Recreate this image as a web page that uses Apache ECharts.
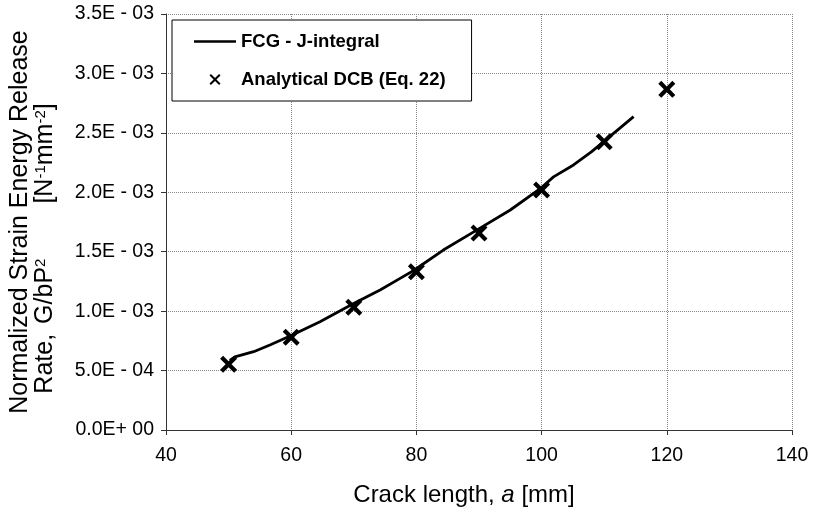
<!DOCTYPE html>
<html>
<head>
<meta charset="utf-8">
<script src="https://cdn.jsdelivr.net/npm/echarts@6/dist/echarts.min.js"></script>
<style>
  html, body { margin: 0; padding: 0; background: #fff; }
  #chart { width: 813px; height: 510px; }
</style>
</head>
<body>
<div id="chart"></div>
<script>
// FCG - J-integral curve
const fcgX = [50.2, 51.0, 54.0, 56.6, 60.0, 64.6, 69.9, 74.2, 77.4, 79.5, 84.3, 89.9, 95.0, 100.0, 101.9, 105.1, 108.0, 111.5, 114.7]
const fcgG = [0.000585, 0.000615, 0.000659, 0.000715, 0.000795, 0.000911, 0.001062, 0.001178, 0.001276, 0.00134,
  0.001514, 0.00169, 0.001851, 0.00204, 0.00213, 0.00223, 0.002342, 0.002496, 0.002636]

// Analytical DCB (Eq. 22)
const dcbX = [50, 60, 70, 80, 90, 100, 110, 120]
const dcbG = [0.000553, 0.00078, 0.001032, 0.001332, 0.001658, 0.002019, 0.002426, 0.002866]

const font = 'Liberation Sans, Arial, sans-serif'
const crossPath = 'path://M0,3.5L3.5,0L10,6.5L16.5,0L20,3.5L13.5,10L20,16.5L16.5,20L10,13.5L3.5,20L0,16.5L6.5,10Z'
const thinCross = 'path://M0,2.6L2.6,0L10,7.4L17.4,0L20,2.6L12.6,10L20,17.4L17.4,20L10,12.6L2.6,20L0,17.4L7.4,10Z'
const lineIcon = 'path://M0,0L42,0L42,2.5L0,2.5Z'

// 3.5E - 03 style labels
const sciLabel = (v) => {
  if (Math.abs(v) < 1e-12) return '0.0E+ 00'
  const [m, e] = v.toExponential(1).split('e')
  const ex = parseInt(e, 10)
  const pad = String(Math.abs(ex)).padStart(2, '0')
  return m + 'E' + (ex < 0 ? ' - ' : '+ ') + pad
}

const chart = echarts.init(document.getElementById('chart'))
chart.setOption({
  backgroundColor: '#fff',
  animation: false,
  textStyle: { fontFamily: font },
  grid: { left: 166, right: 21, top: 14, bottom: 80, outerBoundsMode: 'none', containLabel: false },
  legend: {
    orient: 'vertical',
    left: 172,
    top: 20,
    padding: [12, 26, 12, 22],
    itemGap: 19,
    itemWidth: 42,
    itemHeight: 11,
    backgroundColor: '#fff',
    borderColor: '#000',
    borderWidth: 1,
    textStyle: { fontFamily: font, fontSize: 18.5, fontWeight: 'bold', color: '#000' },
    data: [
      { name: 'FCG - J-integral', icon: lineIcon, itemStyle: { color: '#000' } },
      { name: 'Analytical DCB (Eq. 22)', icon: thinCross, itemStyle: { color: '#000' } }
    ]
  },
  xAxis: {
    type: 'value',
    min: 40,
    max: 140,
    interval: 20,
    name: '{n|Crack length, }{i|a}{n| [mm]}',
    nameLocation: 'middle',
    nameGap: 53,
    nameTextStyle: {
      padding: [0, 30, 0, 0],
      rich: {
        n: { fontFamily: font, fontSize: 24, color: '#000' },
        i: { fontFamily: font, fontSize: 24, color: '#000', fontStyle: 'italic' }
      }
    },
    axisLine: { lineStyle: { color: '#333', width: 1 } },
    axisTick: { show: true, length: 5, lineStyle: { color: '#333' } },
    axisLabel: { fontFamily: font, fontSize: 19.5, color: '#000', margin: 16 },
    splitLine: { show: true, lineStyle: { color: '#888', type: 'dotted', width: 1 } }
  },
  yAxis: {
    type: 'value',
    min: 0,
    max: 0.0035,
    interval: 0.0005,
    name: '{a|Normalized Strain Energy Release}\n{a|Rate,}{sp| }{a|G/bP}{s|2}{w| }{a|[N}{s|-1}{a|mm}{s|-2}{a|]}{g| }',
    nameLocation: 'middle',
    nameGap: 108,
    nameRotate: 90,
    nameTextStyle: {
      align: 'center',
      lineHeight: 25,
      rich: {
        a: { fontFamily: font, fontSize: 25, color: '#000', lineHeight: 25 },
        s: { fontFamily: font, fontSize: 15, color: '#000', verticalAlign: 'top', lineHeight: 25 },
        sp: { fontSize: 25, width: 10, lineHeight: 25 },
        w: { fontSize: 25, width: 55, lineHeight: 25 },
        g: { fontSize: 25, width: 53, lineHeight: 25 }
      }
    },
    axisLine: { show: true, lineStyle: { color: '#333', width: 1 } },
    axisTick: { show: true, length: 5, lineStyle: { color: '#333' } },
    axisLabel: { fontFamily: font, fontSize: 19.5, color: '#000', margin: 12, formatter: sciLabel },
    splitLine: { show: true, lineStyle: { color: '#888', type: 'dotted', width: 1 } }
  },
  series: [
    {
      name: 'FCG - J-integral',
      type: 'line',
      data: fcgX.map((x, i) => [x, fcgG[i]]),
      showSymbol: false,
      symbol: 'none',
      lineStyle: { color: '#000', width: 2.8 },
      itemStyle: { color: '#000' },
      z: 3
    },
    {
      name: 'Analytical DCB (Eq. 22)',
      type: 'scatter',
      data: dcbX.map((x, i) => [x, dcbG[i]]),
      symbol: crossPath,
      symbolSize: 17,
      itemStyle: { color: '#000', opacity: 1 },
      z: 4
    }
  ]
})
</script>
</body>
</html>
